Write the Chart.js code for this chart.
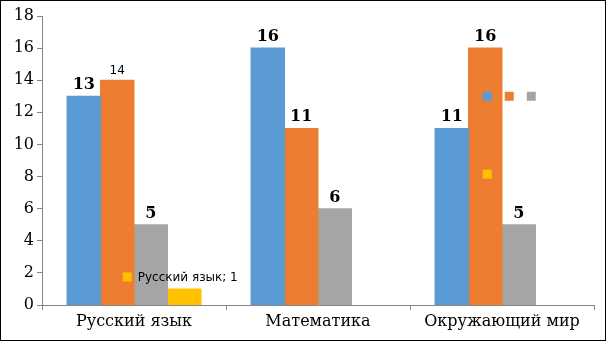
<!DOCTYPE html>
<html>
<head>
<meta charset="utf-8">
<script src="https://cdn.jsdelivr.net/npm/chart.js@4/dist/chart.umd.min.js"></script>
<style>
    html, body { margin: 0; padding: 0; background: #fff; }
    #wrap { width: 606px; height: 341px; box-sizing: border-box; border: 1px solid #000; }
    canvas { display: block; }
</style>
</head>
<body>
<div id="wrap"><canvas id="chart" width="604" height="339"></canvas></div>
<script>
const categories = ['Русский язык', 'Математика', 'Окружающий мир'];
const seriesBlue = [13, 16, 11];
const seriesOrange = [14, 11, 16];
const seriesGray = [5, 6, 5];
const seriesYellow = [1, null, null];
const yTicks = [0, 2, 4, 6, 8, 10, 12, 14, 16, 18];

const colors = ['#5B9BD5', '#ED7D31', '#A5A5A5', '#FFC000'];

// empty data labels that only show their legend key (dataset, category, value)
const emptyKeys = [
    { ds: 0, cat: 2, value: 13, step: 0 },
    { ds: 1, cat: 2, value: 13, step: 1 },
    { ds: 2, cat: 2, value: 13, step: 2 },
    { ds: 3, cat: 2, value: 8.15, step: 0 }
];

const serifBold = 'bold 16px "DejaVu Serif"';
const sansSmall = '12px "DejaVu Sans"';

function drawKey(ctx, cx, cy, color) {
    ctx.fillStyle = color;
    ctx.fillRect(cx - 4.5, cy - 4.5, 9, 9);
}

const valueLabels = {
    id: 'valueLabels',
    afterDatasetsDraw(chart) {
        const ctx = chart.ctx;
        const yScale = chart.scales.y;
        ctx.save();
        ctx.textAlign = 'center';
        ctx.textBaseline = 'alphabetic';
        chart.data.datasets.forEach((ds, i) => {
            const meta = chart.getDatasetMeta(i);
            meta.data.forEach((bar, j) => {
                const v = ds.data[j];
                if (v === null || v === undefined) return;
                if (i === 3) {
                    // yellow series: key + "category; value"
                    const text = categories[j] + '; ' + v;
                    ctx.font = sansSmall;
                    const w = ctx.measureText(text).width;
                    const total = 9 + 6 + w;
                    const left = bar.x - total / 2 - 4;
                    const cy = bar.y - 12;
                    drawKey(ctx, left + 4.5, cy, colors[3]);
                    ctx.fillStyle = '#000';
                    ctx.textAlign = 'left';
                    ctx.textBaseline = 'middle';
                    ctx.fillText(text, left + 15, cy + 0.5);
                    ctx.textAlign = 'center';
                    ctx.textBaseline = 'alphabetic';
                    return;
                }
                if (i === 1 && j === 0) {
                    ctx.font = sansSmall;
                    ctx.fillStyle = '#000';
                    ctx.fillText(String(v), bar.x, bar.y - 6);
                    return;
                }
                ctx.font = serifBold;
                ctx.fillStyle = '#000';
                ctx.fillText(String(v), bar.x, bar.y - 7);
            });
        });
        emptyKeys.forEach(k => {
            const orange = chart.getDatasetMeta(1).data[k.cat];
            const cx = orange.x + 2 + k.step * 22;
            drawKey(ctx, cx, yScale.getPixelForValue(k.value), colors[k.ds]);
        });
        ctx.restore();
    }
};

new Chart(document.getElementById('chart'), {
    type: 'bar',
    data: {
        labels: categories,
        datasets: [
            { data: seriesBlue, backgroundColor: colors[0] },
            { data: seriesOrange, backgroundColor: colors[1] },
            { data: seriesGray, backgroundColor: colors[2] },
            { data: seriesYellow, backgroundColor: colors[3] }
        ]
    },
    options: {
        responsive: false,
        animation: false,
        layout: { padding: { left: 0, right: 11, top: 15, bottom: 0 } },
        datasets: { bar: { categoryPercentage: 0.728, barPercentage: 1, skipNull: false, borderWidth: 0, inflateAmount: 0.5 } },
        plugins: { legend: { display: false }, tooltip: { enabled: false } },
        scales: {
            x: {
                grid: { display: true, drawOnChartArea: false, offset: true, color: '#868686', tickLength: 5 },
                border: { color: '#868686' },
                ticks: { color: '#000', font: { family: 'DejaVu Serif', size: 16 }, padding: 2 },
                afterFit(s) { s.height = 35; }
            },
            y: {
                min: 0,
                max: 18,
                afterBuildTicks(s) { s.ticks = yTicks.map(v => ({ value: v })); },
                grid: { display: true, drawOnChartArea: false, color: '#868686', tickLength: 5 },
                border: { color: '#868686' },
                ticks: { color: '#000', font: { family: 'DejaVu Serif', size: 16 }, padding: 3 },
                afterFit(s) { s.width = 41; }
            }
        }
    },
    plugins: [valueLabels]
});
</script>
</body>
</html>
